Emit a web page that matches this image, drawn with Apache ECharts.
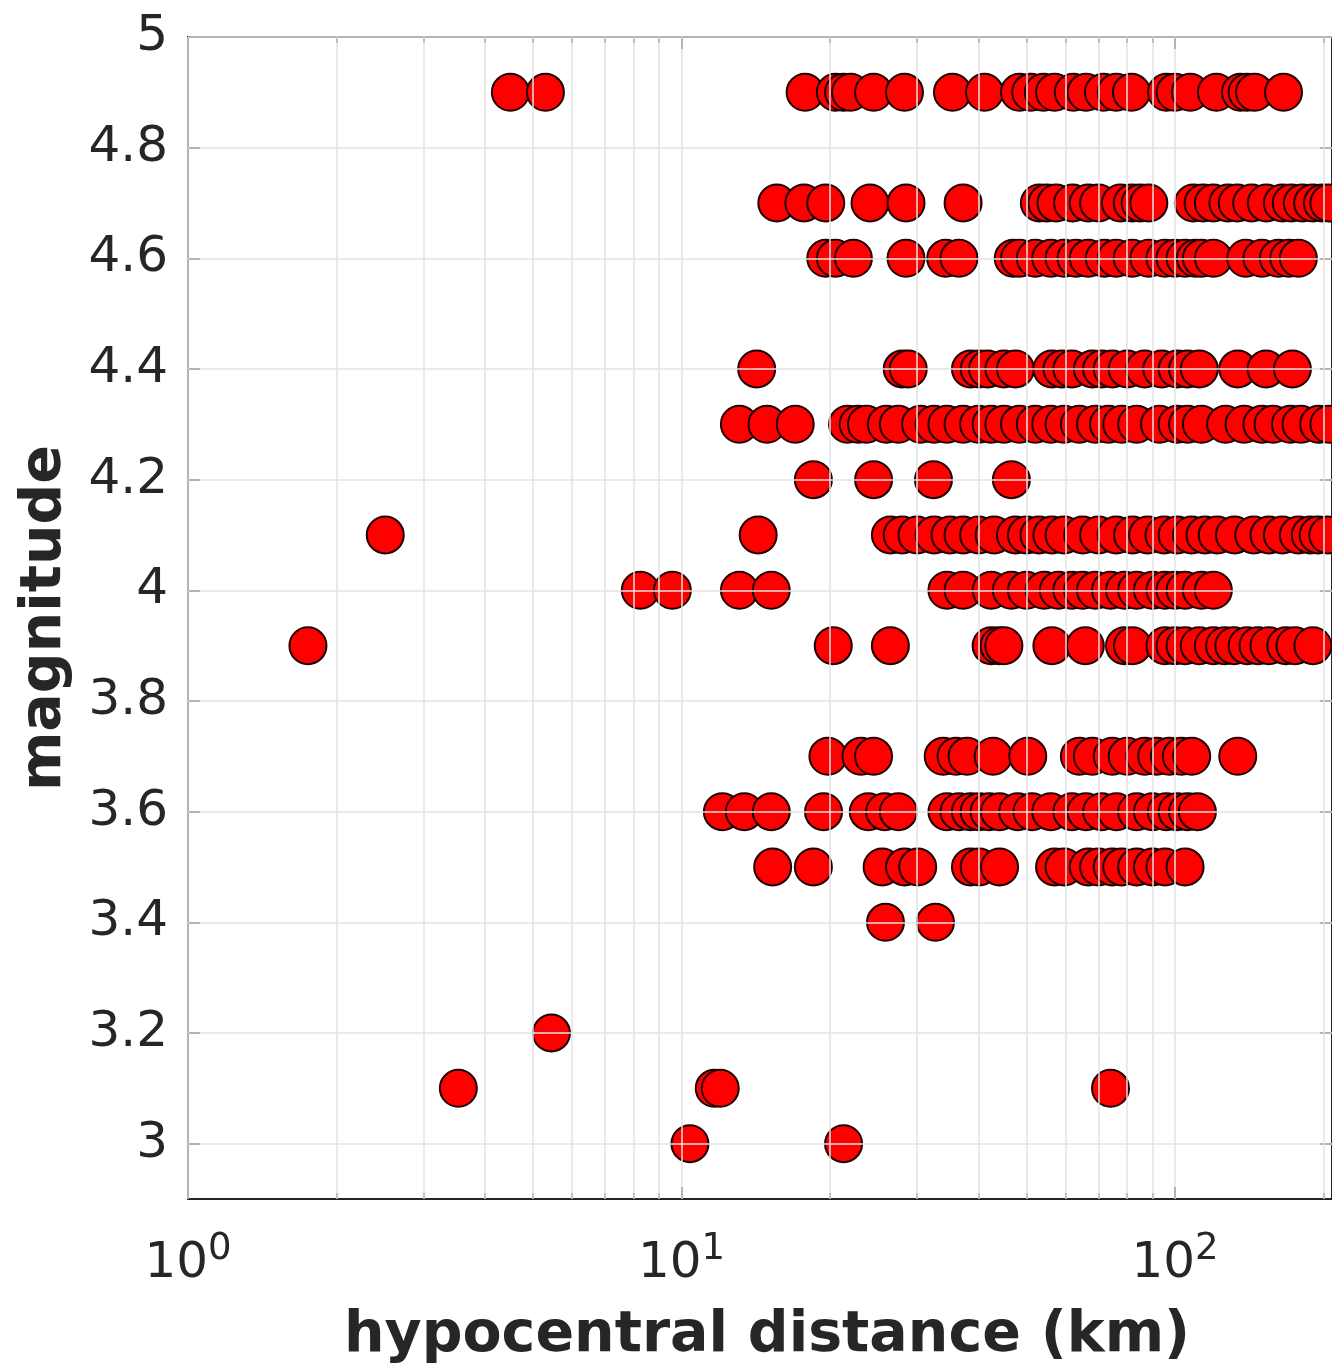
<!DOCTYPE html>
<html><head><meta charset="utf-8">
<script src="https://cdn.jsdelivr.net/npm/echarts@6/dist/echarts.min.js"></script>
<style>html,body{margin:0;padding:0;background:#fff}#c{width:1332px;height:1370px}</style>
</head><body><div id="c"></div>
<script>
// Axis ticks / ranges
const xMajor = [1, 10, 100];
const xMinor = [2, 3, 4, 5, 6, 7, 8, 9, 20, 30, 40, 50, 60, 70, 80, 90, 200];
const yTicks = [3, 3.2, 3.4, 3.6, 3.8, 4, 4.2, 4.4, 4.6, 4.8, 5];
const xRange = [1, 208];
const yRange = [2.9, 5];

// Hypocentral distances (km) per magnitude
const m49 = [4.5, 5.3, 17.8, 20.5, 21.3, 22.0, 24.5, 28.3, 35.4, 41.1, 48.4, 51, 54.1, 57, 62.2, 66, 71.6, 76, 81.6, 96.1, 100, 107.4, 121.3, 135.7, 140, 144.9, 165.9];
const m47 = [15.6, 17.7, 19.6, 24.1, 28.5, 37.2, 53.1, 55, 57.4, 62, 66.7, 70, 77.5, 81.9, 85, 88.5, 108.9, 114, 119.6, 128, 133.7, 143, 153.1, 165, 172, 181.1, 190, 198.9, 205];
const m46 = [19.6, 20.5, 22.3, 28.5, 34.3, 36.5, 47, 48.4, 52.1, 56, 59.6, 63, 66.7, 71.9, 76, 81.9, 88.5, 95.4, 100, 104.8, 110, 113.1, 119.6, 139.1, 150, 161.9, 170, 177.8];
const m44 = [14.2, 28.0, 28.8, 38.5, 40.1, 41.7, 45, 47.5, 56.3, 59, 61.8, 68, 71, 74.6, 80, 86.8, 94, 101.0, 106, 112.0, 134.0, 152.9, 172.9];
const m43 = [13.1, 14.9, 17.0, 21.7, 22.8, 23.7, 26.0, 27.5, 30.5, 32.5, 34.5, 37.2, 40, 42.4, 45, 48.4, 52.1, 56, 59.6, 64, 69, 73.3, 78, 83.6, 93, 101.0, 106, 113.1, 126.6, 138, 150.0, 158, 171.3, 180, 195.4, 205];
const m42 = [18.5, 24.5, 32.4, 46.6];
const m41 = [2.51, 14.3, 26.5, 28.0, 30, 32.5, 35, 37.2, 40, 43, 47.5, 50, 53, 56.3, 59.6, 65, 70, 76.0, 82, 88, 95, 101, 108, 115, 121.8, 132, 144.4, 155, 165, 177.8, 188, 195, 204];
const m40 = [8.25, 9.58, 13.1, 15.2, 34.5, 37.2, 42.4, 46.6, 50, 54.3, 58, 61.8, 65, 69.0, 74, 79.0, 83.6, 90, 95.4, 100, 104.8, 113.1, 119.6];
const m39 = [1.75, 20.3, 26.5, 42.4, 44, 45.0, 56.3, 65.8, 79.0, 82, 95.4, 100, 104.8, 112, 119.6, 126, 131.6, 140, 147.3, 155, 167.7, 175, 190.3];
const m37 = [19.8, 23.1, 24.5, 33.9, 36, 37.9, 42.8, 50.3, 64.0, 68, 74.6, 80, 86.8, 91.8, 97.4, 103, 108.1, 134.0];
const m36 = [12.1, 13.4, 15.2, 19.4, 23.9, 25.8, 27.5, 34.5, 36.5, 38.5, 40.1, 42, 44.1, 48, 51.3, 56, 61.8, 66, 71, 76.1, 83.6, 90, 96, 101.0, 106, 111.0];
const m35 = [15.3, 18.5, 25.5, 28.3, 30.1, 38.5, 40.1, 44.1, 57, 59.6, 66.7, 70, 74.6, 78, 83.6, 90, 95.4, 104.8];
const m34 = [25.9, 32.7];
const m32 = [5.45];
const m31 = [3.53, 11.65, 11.98, 74.0];
const m30 = [10.4, 21.3];

const rows = [[4.9, m49], [4.7, m47], [4.6, m46], [4.4, m44], [4.3, m43], [4.2, m42], [4.1, m41], [4.0, m40],
  [3.9, m39], [3.7, m37], [3.6, m36], [3.5, m35], [3.4, m34], [3.2, m32], [3.1, m31], [3.0, m30]];
const pts = [];
rows.forEach(([m, arr]) => arr.forEach(d => pts.push([d, m])));

const FONT = 'DejaVu Sans';
const axisColor = '#262626';
const gridColor = '#e3e3e3';

const baseX = {
  type: 'log', logBase: 10, min: xRange[0], max: xRange[1], gridIndex: 0,
  axisLine: { show: true, onZero: false, lineStyle: { color: axisColor, width: 2 } },
  splitLine: { show: false }, minorTick: { show: false }, minorSplitLine: { show: false }
};

const chart = echarts.init(document.getElementById('c'), null, { renderer: 'canvas' });
chart.setOption({
  animation: false,
  backgroundColor: '#fff',
  grid: { left: 188, top: 37, right: 0, bottom: 168, containLabel: false },
  xAxis: [
    Object.assign({}, baseX, {
      position: 'bottom',
      axisTick: { show: true, inside: true, length: 12, customValues: xMajor, lineStyle: { color: axisColor, width: 2 } },
      axisLabel: {
        show: true, customValues: xMajor, margin: 40,
        formatter: v => '{b|10}{e|' + Math.round(Math.log10(v)) + '}',
        rich: {
          b: { fontSize: 50, fontFamily: FONT, color: axisColor, lineHeight: 50 },
          e: { fontSize: 37, fontFamily: FONT, color: axisColor, lineHeight: 36, padding: [0, 0, 29, 0] }
        }
      },
      name: 'hypocentral distance (km)', nameLocation: 'middle', nameGap: 109,
      nameTextStyle: { fontFamily: FONT, fontWeight: 'bold', fontSize: 57, color: axisColor, padding: [0, 0, 0, 14] }
    }),
    Object.assign({}, baseX, {
      position: 'bottom', axisLine: { show: false },
      axisTick: { show: true, inside: true, length: 6, customValues: xMinor, lineStyle: { color: axisColor, width: 1.5 } },
      axisLabel: { show: false }
    }),
    Object.assign({}, baseX, {
      position: 'top',
      axisTick: { show: true, inside: true, length: 12, customValues: xMajor, lineStyle: { color: axisColor, width: 2 } },
      axisLabel: { show: false }
    }),
    Object.assign({}, baseX, {
      position: 'top', axisLine: { show: false },
      axisTick: { show: true, inside: true, length: 6, customValues: xMinor, lineStyle: { color: axisColor, width: 1.5 } },
      axisLabel: { show: false }
    })
  ],
  yAxis: [
    {
      type: 'value', min: yRange[0], max: yRange[1], position: 'left',
      axisLine: { show: true, onZero: false, lineStyle: { color: axisColor, width: 2 } },
      axisTick: { show: true, inside: true, length: 12, customValues: yTicks, lineStyle: { color: axisColor, width: 2 } },
      axisLabel: { show: true, customValues: yTicks, margin: 20, fontSize: 50, fontFamily: FONT, color: axisColor,
        formatter: v => String(+(+v).toFixed(1)) },
      splitLine: { show: false },
      name: 'magnitude', nameLocation: 'middle', nameGap: 114,
      nameTextStyle: { fontFamily: FONT, fontWeight: 'bold', fontSize: 57, color: axisColor }
    },
    {
      type: 'value', min: yRange[0], max: yRange[1], position: 'right',
      axisLine: { show: true, onZero: false, lineStyle: { color: axisColor, width: 2 } },
      axisTick: { show: true, inside: true, length: 12, customValues: yTicks, lineStyle: { color: axisColor, width: 2 } },
      axisLabel: { show: false }, splitLine: { show: false }
    }
  ],
  series: [
    {
      type: 'scatter', xAxisIndex: 0, yAxisIndex: 0, data: [], silent: true, z: 1,
      markLine: {
        silent: true, symbol: ['none', 'none'], label: { show: false }, animation: false,
        lineStyle: { color: gridColor, width: 1.5, type: 'solid' },
        emphasis: { disabled: true },
        data: xMajor.concat(xMinor).map(v => ({ xAxis: v })).concat(yTicks.map(v => ({ yAxis: v })))
      }
    },
    {
      type: 'scatter', xAxisIndex: 0, yAxisIndex: 0, data: pts, symbol: 'circle', symbolSize: 37, z: 3,
      itemStyle: { color: '#ff0000', borderColor: '#1e0000', borderWidth: 2, opacity: 1 }
    }
  ]
});
</script></body></html>
